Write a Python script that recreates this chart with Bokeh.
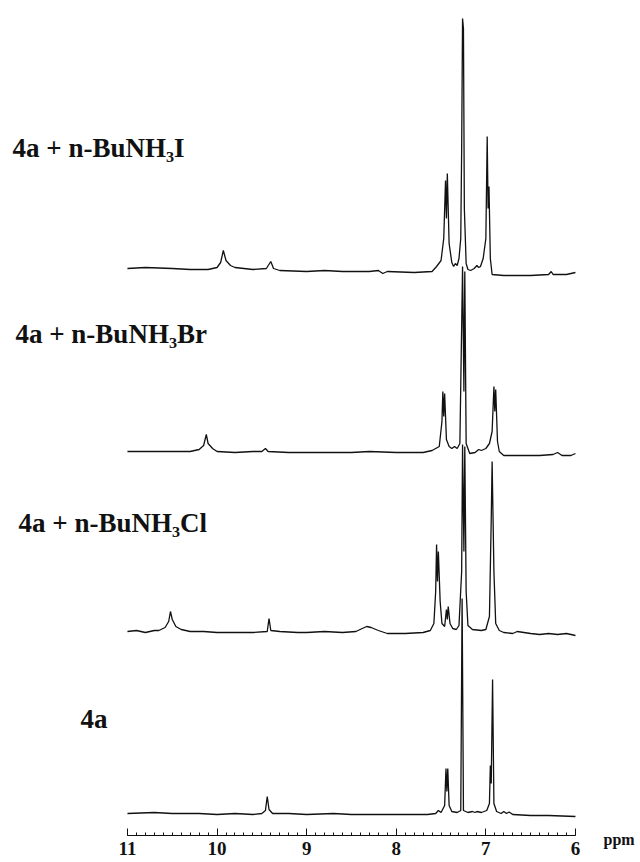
from bokeh.plotting import figure
from bokeh.models import Range1d, SingleIntervalTicker, LinearAxis
from bokeh.core.properties import value
from bokeh.embed import file_html
from bokeh.resources import INLINE

# ---------------- data (ppm, intensity) ----------------
trace_names = ["4a", "4a + n-BuNH\u2083Cl", "4a + n-BuNH\u2083Br", "4a + n-BuNH\u2083I"]
trace_offsets = [47, 229, 409, 592]

ppm_4a = [11.0, 10.7, 10.5, 10.2, 10.0, 9.8, 9.6, 9.5, 9.46, 9.44, 9.42, 9.38, 9.2, 9.0, 8.7, 8.5, 8.2, 8.0,
          7.8, 7.65, 7.56, 7.53, 7.50, 7.46, 7.445, 7.435, 7.425, 7.41, 7.38, 7.32, 7.28, 7.265, 7.25,
          7.2, 7.15, 7.12, 7.10, 7.05, 6.99, 6.96, 6.95, 6.94, 6.925, 6.91, 6.88, 6.83, 6.80, 6.77,
          6.74, 6.70, 6.5, 6.3, 6.0]
int_4a = [0, 1, 0, 0, -1, 0, -1, 0, 3, 17, 4, 0, 0, -1, 0, -1, -1, -1,
          -1, -1, 0, 3, 1, 8, 45, 22, 45, 8, 2, 1, 3, 215, 3,
          1, 2, 1, 2, 1, 3, 10, 48, 30, 134, 10, 2, 0, 2, 0,
          1.5, -1, -2, -2, -3]

ppm_cl = [11.0, 10.9, 10.8, 10.7, 10.65, 10.58, 10.54, 10.52, 10.50, 10.46, 10.40, 10.3, 10.15, 10.0,
          9.8, 9.6, 9.44, 9.42, 9.40, 9.3, 9.1, 9.0, 8.8, 8.6, 8.45, 8.38, 8.33, 8.28, 8.2, 8.1, 7.9,
          7.7, 7.62, 7.58, 7.56, 7.55, 7.54, 7.53, 7.51, 7.49, 7.46, 7.44, 7.43, 7.42, 7.40, 7.37,
          7.33, 7.30, 7.27, 7.26, 7.245, 7.235, 7.22, 7.20, 7.15, 7.05, 7.0, 6.96, 6.94, 6.93, 6.91,
          6.89, 6.85, 6.8, 6.7, 6.65, 6.5, 6.4, 6.3, 6.2, 6.1, 6.0]
int_cl = [0, 1, -1, 1, 1, 4, 10, 20, 12, 5, 2, 0, 0, -1,
          -1, -1, 0, 13, 1, 0, -1, -1, 0, -1, 0, 3, 5, 4, 1, -2, -2,
          -1, 1, 8, 40, 87, 50, 80, 30, 8, 5, 22, 12, 25, 8, 3,
          2, 6, 60, 187, 80, 185, 40, 6, 2, 1, 2, 15, 112, 170, 60,
          8, 1, -1, -2, 0, -2, -3, -2, -3, -2, -4]

ppm_br = [11.0, 10.8, 10.6, 10.3, 10.2, 10.15, 10.12, 10.10, 10.05, 10.0, 9.8, 9.6, 9.5, 9.46, 9.43,
          9.2, 9.0, 8.7, 8.5, 8.3, 8.0, 7.8, 7.7, 7.6, 7.52, 7.49, 7.48, 7.47, 7.46, 7.44, 7.41,
          7.38, 7.35, 7.32, 7.29, 7.26, 7.245, 7.235, 7.22, 7.18, 7.12, 7.08, 7.05, 7.0, 6.96,
          6.93, 6.91, 6.90, 6.89, 6.87, 6.85, 6.8, 6.6, 6.4, 6.25, 6.2, 6.15, 6.05, 6.0]
int_br = [0, 0, 0, 0, 2, 6, 17, 8, 3, 0, -1, 0, 0, 3, 0,
          -1, -1, -1, -1, 0, -1, -1, -1, 1, 5, 30, 60, 35, 58, 12, 5,
          3, 5, 3, 8, 185, 60, 180, 8, -2, -1, 2, 1, 3, 8,
          20, 65, 40, 62, 10, 0, -4, -4, -4, -3, -1, -4, -4, -2]

ppm_i = [11.0, 10.8, 10.5, 10.3, 10.1, 10.0, 9.96, 9.93, 9.90, 9.85, 9.8, 9.6, 9.45, 9.40, 9.37,
         9.3, 9.0, 8.8, 8.6, 8.3, 8.2, 8.15, 8.1, 7.8, 7.6, 7.55, 7.50, 7.47, 7.45, 7.44, 7.43,
         7.41, 7.38, 7.36, 7.34, 7.32, 7.30, 7.28, 7.27, 7.26, 7.25, 7.24, 7.22, 7.20, 7.17,
         7.13, 7.10, 7.08, 7.06, 7.03, 7.00, 6.985, 6.975, 6.965, 6.95, 6.93, 6.8, 6.6, 6.5,
         6.3, 6.27, 6.25, 6.1, 6.0]
int_i = [0, 1, 0, -1, -1, 1, 6, 18, 8, 3, 1, -1, 0, 7, 0,
         -2, -3, -2, -3, -3, -2, -5, -3, -4, -3, 2, 8, 30, 88, 50, 95,
         25, 6, 2, 5, 3, 10, 30, 120, 250, 240, 60, 5, -1, -2,
         0, 3, 1, 2, 10, 30, 132, 60, 82, 10, -6, -7, -7, -7,
         -6, -3, -6, -6, -4]

trace_ppm = [ppm_4a, ppm_cl, ppm_br, ppm_i]
trace_int = [int_4a, int_cl, int_br, int_i]

# label anchor positions (ppm, height) for the trace names
label_ppm = [11.524, 12.216, 12.25, 12.283]
label_y = [142, 338, 527, 713]

axis_ticks = [6, 7, 8, 9, 10, 11]
axis_unit = "ppm"

# ---------------- figure ----------------
W, H = 640, 860
p = figure(width=W, height=H, output_backend="svg", toolbar_location=None,
           x_range=Range1d(12.417, 5.274), y_range=Range1d(0, 860),
           x_axis_location=None, y_axis_location=None,
           min_border_left=0, min_border_right=0, min_border_top=0, min_border_bottom=0)
p.outline_line_color = None
p.background_fill_color = "white"
p.border_fill_color = "white"
p.grid.grid_line_color = None
p.grid.visible = False

for xs, ys, off in zip(trace_ppm, trace_int, trace_offsets):
    p.line(xs, [off + v for v in ys], line_color="#111111", line_width=1.3)

serif = value("Liberation Serif")
for name, lx, ly in zip(trace_names, label_ppm, label_y):
    p.text(x=[lx], y=[ly], text=[name], text_font=serif, text_font_style="bold",
           text_font_size="27px", text_color="#111111", text_baseline="alphabetic",
           text_align="left")

ax = LinearAxis(fixed_location=25)
ax.ticker = SingleIntervalTicker(interval=1, num_minor_ticks=10)
ax.bounds = (min(axis_ticks), max(axis_ticks))
ax.axis_line_color = "#111111"
ax.axis_line_width = 1.2
ax.major_tick_in = 7
ax.major_tick_out = 0
ax.minor_tick_in = 3
ax.minor_tick_out = 0
ax.major_tick_line_color = "#111111"
ax.minor_tick_line_color = "#111111"
ax.major_label_text_font = "Liberation Serif"
ax.major_label_text_font_style = "bold"
ax.major_label_text_font_size = "19px"
ax.major_label_text_color = "#111111"
ax.major_label_standoff = 6
p.add_layout(ax, "below")

p.text(x=[5.687], y=[21], text=[axis_unit], text_font=serif, text_font_style="bold",
       text_font_size="16px", text_color="#111111", text_baseline="middle", text_align="left")

open("out.html", "w").write(file_html(p, INLINE))
